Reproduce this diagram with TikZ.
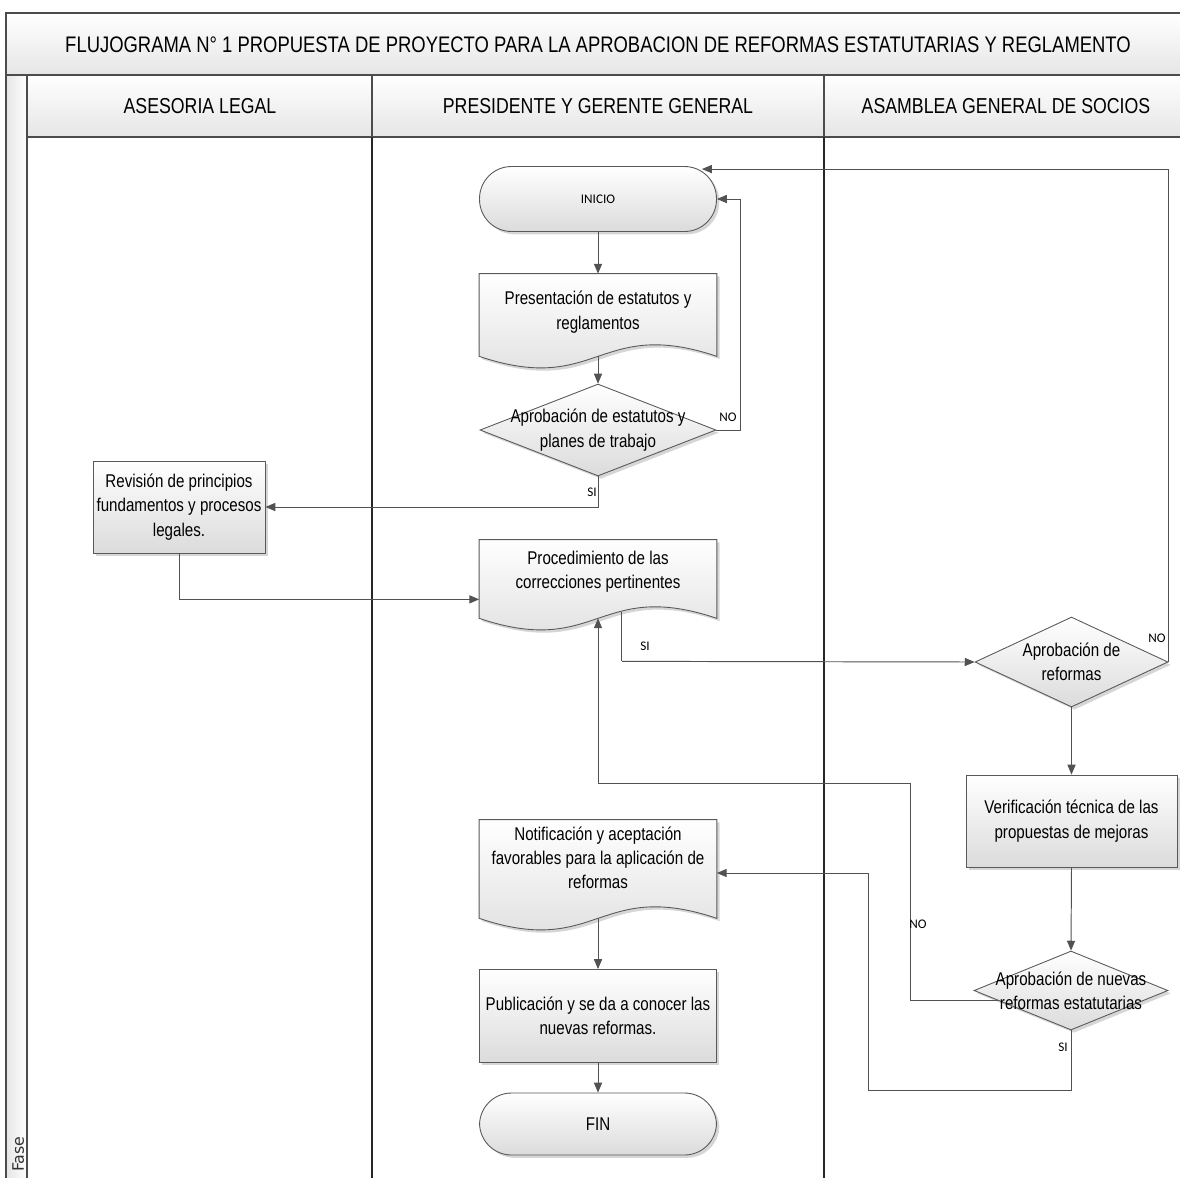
\documentclass[tikz,border=0pt]{standalone}
\usepackage{fontspec}
\setmainfont{Liberation Sans}[FakeStretch=0.82]
\newfontfamily\labelfont{Carlito}
\newfontfamily\phasefont{DejaVu Sans}
\usetikzlibrary{shapes.geometric,shadows,calc,arrows.meta}
\pgfdeclarelayer{lanes}
\pgfdeclarelayer{docs}
\pgfsetlayers{lanes,docs,main}

\tikzset{
  frame/.style={draw=black!70, line width=0.6pt},
  band/.style={frame, top color=white, bottom color=black!10},
  lanesep/.style={draw=black!85, line width=0.6pt},
  line/.style={draw=black!68, line width=0.55pt},
  arr/.style={line, -{Triangle[length=5.6pt,width=4.6pt]}},
  shapefill/.style={top color=white, bottom color=black!14, draw=black!65, line width=0.5pt},
  shadowed/.style={drop shadow={shadow xshift=1.6pt, shadow yshift=-1.6pt, fill=black, opacity=0.16}},
  txt/.style={font=\fontsize{10.5}{13.8}\selectfont, align=center},
  procbox/.style={rectangle, shapefill, shadowed, txt, inner sep=0pt},
  termbox/.style={rectangle, rounded corners=0.64cm, shapefill, shadowed, inner sep=0pt},
  docbox/.style={rectangle, txt, inner sep=0pt, minimum width=4.74cm},
  decision/.style={diamond, shapefill, shadowed, inner sep=0pt},
  flowlbl/.style={font=\labelfont\fontsize{7.5}{9}\selectfont, inner sep=0pt},
  hdrtext/.style={font=\fontsize{12.3}{14}\selectfont, inner sep=0pt},
}

% document symbol drawn under a text node: #1 node name, #2 depth (px) of the wave centre below the node
\newcommand\docshape[2]{%
  \coordinate (#1-b) at ($(#1.south)+(0,#2)$);
  \begin{pgfonlayer}{docs}
    \path[fill=black, opacity=0.16, transform canvas={xshift=1.6pt,yshift=-1.6pt}]
      (#1.north west) -- ($(#1.south west)+(0,#2)$)
      .. controls ($(#1-b)+(0,40)$) and ($(#1-b)+(0,-40)$) .. ($(#1.south east)+(0,#2)$)
      -- (#1.north east) -- cycle;
    \path[shapefill]
      (#1.north west) -- ($(#1.south west)+(0,#2)$)
      .. controls ($(#1-b)+(0,40)$) and ($(#1-b)+(0,-40)$) .. ($(#1.south east)+(0,#2)$)
      -- (#1.north east) -- cycle;
  \end{pgfonlayer}}

\begin{document}
\begin{tikzpicture}[x=0.02cm, y=-0.02cm]
\useasboundingbox (0,0) rectangle (1180,1177);

% ---- swimlane frame ----
\begin{pgfonlayer}{lanes}
  \path[band] (6,13) rectangle (1190,75);
  \path[frame, left color=black!10, right color=white] (6,75) rectangle (27,1195);
  \path[band] (27,75) rectangle (372,137);
  \path[band] (372,75) rectangle (824,137);
  \path[band] (824,75) rectangle (1190,137);
  \draw[lanesep] (372,137) -- (372,1195);
  \draw[lanesep] (824,137) -- (824,1195);
\end{pgfonlayer}

\node[font=\fontsize{12.8}{15}\selectfont, inner sep=0pt] (title) at (598,45)
  {FLUJOGRAMA N° 1 PROPUESTA DE PROYECTO PARA LA APROBACION DE REFORMAS ESTATUTARIAS Y REGLAMENTO};
\node[hdrtext] (lane1) at (200,106) {ASESORIA LEGAL};
\node[hdrtext] (lane2) at (598,106) {PRESIDENTE Y GERENTE GENERAL};
\node[hdrtext] (lane3) at (1006,106) {ASAMBLEA GENERAL DE SOCIOS};
\node[rotate=90, anchor=base east, font=\phasefont\fontsize{9}{11}\selectfont, text=black!80, inner sep=0pt]
  (phase) at (24,1136) {Fase};

% ---- flow symbols ----
\node[termbox, minimum width=4.74cm, minimum height=1.3cm] (inicio) at (598,199)
  {\labelfont\fontsize{7.5}{9}\selectfont INICIO};

\node[docbox, minimum height=1.52cm] (pres) at (598,312)
  {Presentación de estatutos y\\reglamentos};
\docshape{pres}{6}

\node[decision, minimum width=4.72cm, minimum height=1.84cm] (d1) at (598,430) {};
\node[txt, inner sep=0pt] (d1t) at (598,430) {Aprobación de estatutos y\\planes de trabajo};

\node[procbox, minimum width=3.44cm, minimum height=1.84cm] (rev) at (179,507)
  {Revisión de principios\\fundamentos y procesos\\legales.};

\node[docbox, minimum height=1.28cm] (proc) at (598,572)
  {Procedimiento de las\\correcciones pertinentes};
\docshape{proc}{14}

\node[decision, minimum width=3.86cm, minimum height=1.8cm] (d2) at (1071.5,662) {};
\node[txt, inner sep=0pt] (d2t) at (1071.5,662) {Aprobación de\\reformas};

\node[procbox, minimum width=4.22cm, minimum height=1.84cm] (ver) at (1071.5,821)
  {Verificación técnica de las\\propuestas de mejoras};

\node[decision, minimum width=3.88cm, minimum height=1.58cm] (d3) at (1071,990.5) {};
\node[txt, inner sep=0pt] (d3t) at (1071,990.5) {Aprobación de nuevas\\reformas estatutarias};

\node[docbox, minimum height=1.52cm] (notif) at (598,858)
  {Notificación y aceptación\\favorables para la aplicación de\\reformas};
\docshape{notif}{22}

\node[procbox, minimum width=4.74cm, minimum height=1.86cm] (pub) at (598,1016)
  {Publicación y se da a conocer las\\nuevas reformas.};

\node[termbox, minimum width=4.74cm, minimum height=1.24cm, txt] (fin) at (598,1124) {FIN};

% ---- connectors ----
\draw[arr] (inicio.south) -- (pres.north);
\draw[arr] (pres-b) -- (d1.north);
\draw[arr] (d1.east) -- ++(24,0) |- (inicio.east);
\draw[arr] (d1.south) |- (rev.east);
\draw[arr] (rev.south) |- ($(proc.south west)+(0,-5)$);
\draw[line] ($(proc-b)+(23,-6)$) -- ++(0,49);
\draw[arr] ($(proc-b)+(24,43)$) -- (d2.west);
\draw[arr] (d2.east) |- ($(inicio.north east)+(-15,3)$);
\draw[arr] (d2.south) -- (ver.north);
\draw[arr] (ver.south) -- (d3.north);
\draw[arr] (d3.188) -| (910,783) -| (proc-b);
\draw[arr] (d3.south) |- (868,1090) |- ($(notif.east)+(0,15)$);
\draw[arr] (notif-b) -- (pub.north);
\draw[arr] (pub.south) -- (fin.north);

% ---- branch labels ----
\node[flowlbl] (no1) at (728,417) {NO};
\node[flowlbl] (si1) at (592,492) {SI};
\node[flowlbl] (si2) at (645,646) {SI};
\node[flowlbl] (no2) at (1157,638) {NO};
\node[flowlbl] (no3) at (918,924) {NO};
\node[flowlbl] (si3) at (1063,1047) {SI};
\end{tikzpicture}
\end{document}
